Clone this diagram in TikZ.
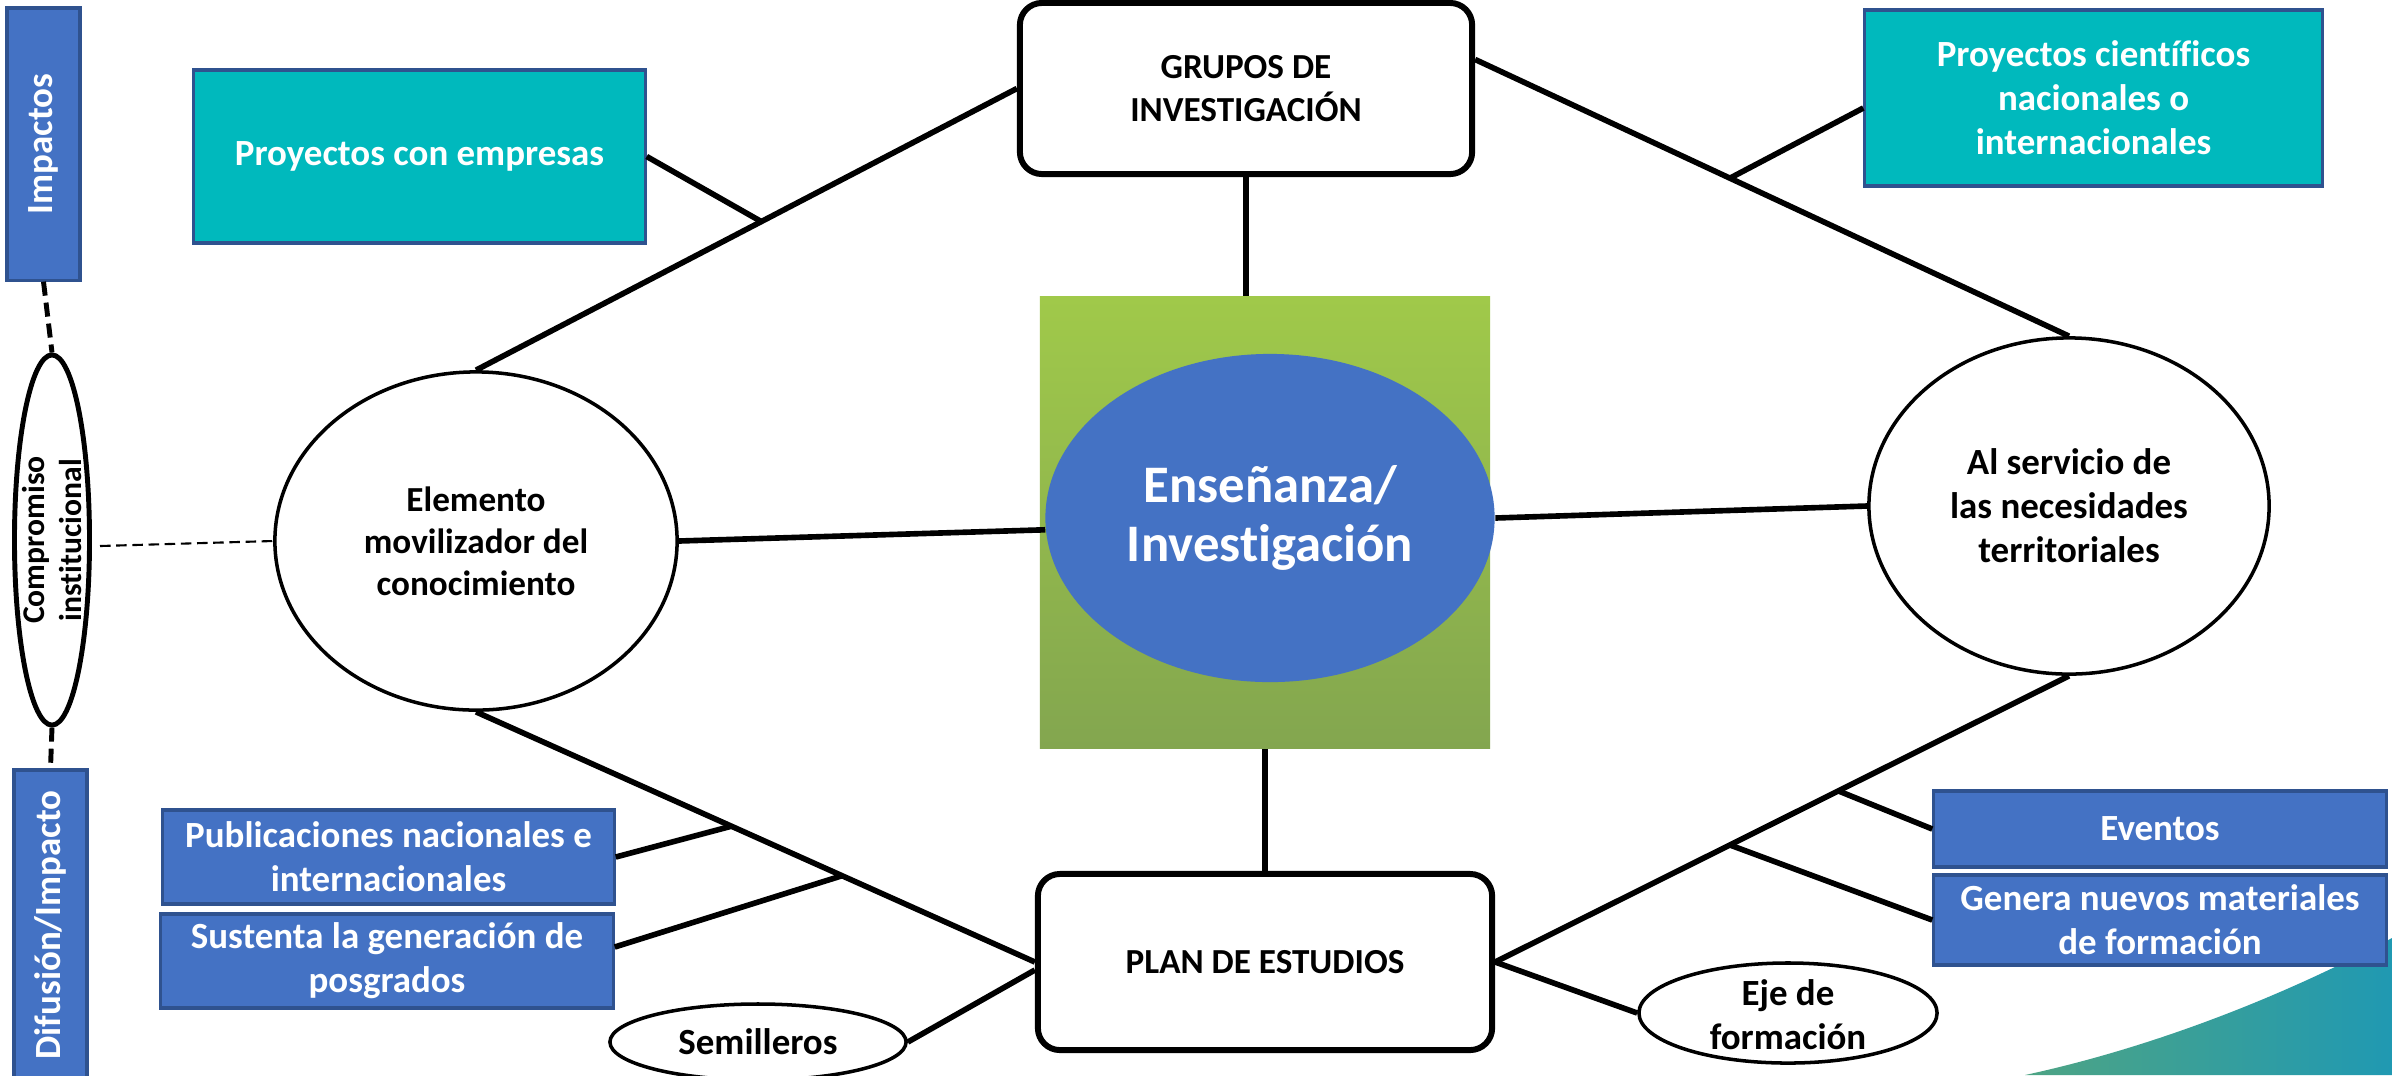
\documentclass[tikz,border=0pt]{standalone}
\usepackage{fontspec}
\setmainfont{Carlito}[Ligatures={TeX,NoCommon}]
\usetikzlibrary{shapes.geometric,calc}

\definecolor{cteal}{RGB}{0,185,189}
\definecolor{cblue}{RGB}{68,114,196}
\definecolor{cedge}{RGB}{47,82,143}
\definecolor{cgreenA}{RGB}{160,201,74}
\definecolor{cgreenB}{RGB}{131,166,79}
\definecolor{cwaveA}{RGB}{78,164,132}
\definecolor{cwaveB}{RGB}{32,153,178}

\begin{document}
\begin{tikzpicture}[x=0.01cm,y=-0.01cm,
	txt/.style={font=\bfseries\fontsize{10.5}{12.5}\selectfont, align=center},
	colorbox/.style={txt, rectangle, draw=cedge, line width=0.9pt, text=white, inner sep=0pt},
	tealbx/.style={colorbox, fill=cteal},
	bluebx/.style={colorbox, fill=cblue},
	roundbx/.style={txt, rectangle, rounded corners=0.22cm, draw, line width=1.7pt, fill=white, inner sep=0pt},
	oval/.style={txt, ellipse, draw, line width=1pt, fill=white, inner sep=0pt},
	link/.style={line width=1.6pt},
	dashlink/.style={line width=1.4pt, dash pattern=on 4pt off 2pt},
	thinlink/.style={line width=0.6pt, dash pattern=on 3pt off 1.6pt}]

	\fill[white] (0,0) rectangle (2392,1075);
	\useasboundingbox (0,0) rectangle (2392,1075);
	\shade[left color=cwaveA, right color=cwaveB] (2025,1075) .. controls (2150,1048) and (2280,998) .. (2392,938) -- (2392,1075) -- cycle;

	% lado izquierdo
	\node[bluebx, minimum width=0.73cm, minimum height=2.72cm] (impactos) at (43.5,144) {\rotatebox{90}{Impactos}};
	\node[oval, line width=1.4pt, minimum width=0.75cm, minimum height=3.7cm] (compr) at (52,540) {};
	\node[txt, font=\bfseries\fontsize{9}{10.5}\selectfont, rotate=90] (comprtxt) at (compr.center) {Compromiso\\institucional};
	\node[bluebx, minimum width=0.73cm, minimum height=3.1cm] (difusion) at (50.5,925) {\rotatebox{90}{Difusión/Impacto}};

	% parte superior
	\node[tealbx, minimum width=4.51cm, minimum height=1.73cm] (proyemp) at (419.5,156.5) {Proyectos con empresas};
	\node[roundbx, font=\bfseries\fontsize{10}{12}\selectfont, minimum width=4.52cm, minimum height=1.71cm] (grupos) at (1246,88.5) {GRUPOS DE\\INVESTIGACIÓN};
	\node[tealbx, minimum width=4.57cm, minimum height=1.76cm] (proycien) at (2093.5,98) {Proyectos científicos\\nacionales o\\internacionales};

	% centro
	\node[top color=cgreenA, bottom color=cgreenB, minimum width=4.5cm, minimum height=4.51cm, inner sep=0pt] (square) at (1265,522.5) {};
	\node[ellipse, fill=cblue, text=white, font=\bfseries\fontsize{15}{17}\selectfont, align=center, minimum width=4.49cm, minimum height=3.28cm, inner sep=0pt] (ensenanza) at (1270,518) {Enseñanza/\\Investigación};
	\node[oval, font=\bfseries\fontsize{10}{12}\selectfont, minimum width=4.02cm, minimum height=3.38cm] (elem) at (476,541) {Elemento\\movilizador del\\conocimiento};
	\node[oval, minimum width=4.0cm, minimum height=3.36cm] (alserv) at (2069,506) {Al servicio de\\las necesidades\\territoriales};

	% parte inferior
	\node[roundbx, font=\bfseries\fontsize{10}{12}\selectfont, minimum width=4.54cm, minimum height=1.76cm] (plan) at (1265,962) {PLAN DE ESTUDIOS};
	\node[bluebx, minimum width=4.51cm, minimum height=0.94cm] (publ) at (388.5,857) {Publicaciones nacionales e\\internacionales};
	\node[bluebx, minimum width=4.52cm, minimum height=0.94cm] (sust) at (387,961) {Sustenta la generación de\\posgrados};
	\node[oval, minimum width=2.96cm, minimum height=0.76cm] (semil) at (758,1042) {Semilleros};
	\node[oval, minimum width=2.98cm, minimum height=1.0cm] (eje) at (1788,1013) {};
	\node[txt] (ejetxt) at (1788,1015) {Eje de\\formación};
	\node[bluebx, minimum width=4.52cm, minimum height=0.76cm] (eventos) at (2160,829) {Eventos};
	\node[bluebx, minimum width=4.52cm, minimum height=0.90cm] (genera) at (2160,920) {Genera nuevos materiales\\de formación};

	% conexiones
	\draw[link] (grupos.west) -- coordinate[pos=0.4725] (jemp) (elem.north);
	\draw[link] (proyemp.east) -- (jemp);
	\draw[link] ([yshift=0.29cm]grupos.east) -- coordinate[pos=0.429] (jcien) (alserv.north);
	\draw[link] ([yshift=-0.1cm]proycien.west) -- (jcien);
	\draw[link] (grupos.south) -- (grupos.south |- square.north);
	\draw[link] (elem.east) -- (ensenanza.183);
	\draw[link] (ensenanza.east) -- (alserv.west);
	\draw[link] (square.south) -- (plan.north);
	\draw[link] (elem.south) -- coordinate[pos=0.457] (jpub) coordinate[pos=0.655] (jsus) (plan.west);
	\draw[link] (publ.east) -- (jpub);
	\draw[link] ([yshift=0.14cm]sust.east) -- (jsus);
	\draw[link] ([yshift=-0.08cm]plan.west) -- (semil.east);
	\draw[link] (alserv.south) -- coordinate[pos=0.402] (jeve) coordinate[pos=0.591] (jgen) (plan.east);
	\draw[link] (eventos.west) -- (jeve);
	\draw[link] (genera.west) -- (jgen);
	\draw[link] (plan.east) -- (eje.west);

	% lineas discontinuas
	\draw[dashlink] (impactos.south) -- (compr.north);
	\draw[dashlink] (compr.south) -- (difusion.north);
	\coordinate (dstart) at (100,546);
	\draw[thinlink] (dstart) -- (elem.west);
\end{tikzpicture}
\end{document}
